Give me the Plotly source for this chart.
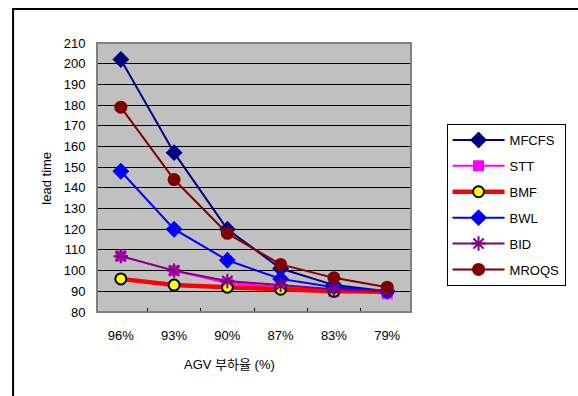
import plotly.graph_objects as go

categories = ["96%", "93%", "90%", "87%", "83%", "79%"]
mfcfs = [202, 157, 120, 101, 93, 90]
stt = [107, 100, 94, 92, 90, 89]
bmf = [96, 93, 92, 91, 90, 90]
bwl = [148, 120, 105, 96, 92, 90]
bid = [107, 100, 95, 93, 91, 90]
mroqs = [179, 144, 118, 103, 96.5, 92]
y_ticks = list(range(80, 211, 10))

FONT = "Liberation Sans, Arial, sans-serif"

series = [
    dict(name="MFCFS", y=mfcfs, color="#000080", width=2,
         marker=dict(symbol="diamond", size=13, color="#000080")),
    dict(name="STT", y=stt, color="#FF00FF", width=2,
         marker=dict(symbol="square", size=11, color="#FF00FF")),
    dict(name="BMF", y=bmf, color="#FF0000", width=4.5,
         marker=dict(symbol="circle", size=11, color="#FFFF00",
                     line=dict(color="#000000", width=2))),
    dict(name="BWL", y=bwl, color="#0000FF", width=2,
         marker=dict(symbol="diamond", size=13, color="#0000FF")),
    dict(name="BID", y=bid, color="#800080", width=2,
         marker=dict(symbol="asterisk-open", size=12, color="#800080",
                     line=dict(color="#800080", width=2))),
    dict(name="MROQS", y=mroqs, color="#800000", width=2,
         marker=dict(symbol="circle", size=13, color="#800000")),
]

fig = go.Figure()
for s in series:
    fig.add_trace(go.Scatter(
        x=categories, y=s["y"], name=s["name"], mode="lines+markers",
        line=dict(color=s["color"], width=s["width"]),
        marker=s["marker"], legendgroup=s["name"],
    ))

L, R, T, B = 97, 163, 43, 84
W, H = 578, 396
pw, ph = W - L - R, H - T - B

def px_x(p):
    return (p - L) / pw

def px_y(p):
    return (H - B - p) / ph

fig.update_layout(
    width=W, height=H,
    margin=dict(l=L, r=R, t=T, b=B),
    paper_bgcolor="white",
    plot_bgcolor="#C0C0C0",
    font=dict(family=FONT, size=12, color="#000000"),
    showlegend=True,
    legend=dict(
        x=px_x(451), y=px_y(124), xanchor="left", yanchor="top",
        bordercolor="#000000", borderwidth=1, bgcolor="white",
        font=dict(family=FONT, size=13, color="#000000"),
        tracegroupgap=6, itemwidth=52,
    ),
    xaxis=dict(
        type="category", categoryorder="array", categoryarray=categories,
        showgrid=False, showline=True, linecolor="#000000", linewidth=1,
        ticks="inside", tickson="boundaries", ticklen=4, tickcolor="#000000",
        mirror=False, ticklabelstandoff=11,
        tickfont=dict(family=FONT, size=13, color="#000000"),
    ),
    yaxis=dict(
        range=[80, 210], tickvals=y_ticks,
        showgrid=True, gridcolor="#000000", gridwidth=1,
        showline=True, linecolor="#000000", linewidth=1,
        ticks="inside", ticklen=4, tickcolor="#000000",
        zeroline=False, ticklabelstandoff=8,
        tickfont=dict(family=FONT, size=13, color="#000000"),
    ),
    annotations=[
        dict(text="lead time", xref="paper", yref="paper",
             x=px_x(45), y=px_y(178), textangle=-90, showarrow=False,
             xanchor="center", yanchor="middle",
             font=dict(family=FONT, size=13, color="#000000")),
        dict(text="AGV 부하율 (%)", xref="paper", yref="paper",
             x=px_x(231), y=px_y(364), showarrow=False,
             xanchor="center", yanchor="middle",
             font=dict(family="Liberation Sans, Noto Sans CJK KR, sans-serif", size=13, color="#000000")),
    ],
    shapes=[
        dict(type="rect", xref="paper", yref="paper", x0=0, y0=0, x1=1, y1=1,
             line=dict(color="#808080", width=2), layer="above"),
        dict(type="rect", xref="paper", yref="paper",
             x0=px_x(12), y0=px_y(460), x1=px_x(700), y1=px_y(9),
             line=dict(color="#000000", width=2)),
    ],
)

fig.write_html(
    "out.html",
    config={"displayModeBar": False},
    post_script="document.body.style.margin='0';document.body.style.padding='0';",
)
